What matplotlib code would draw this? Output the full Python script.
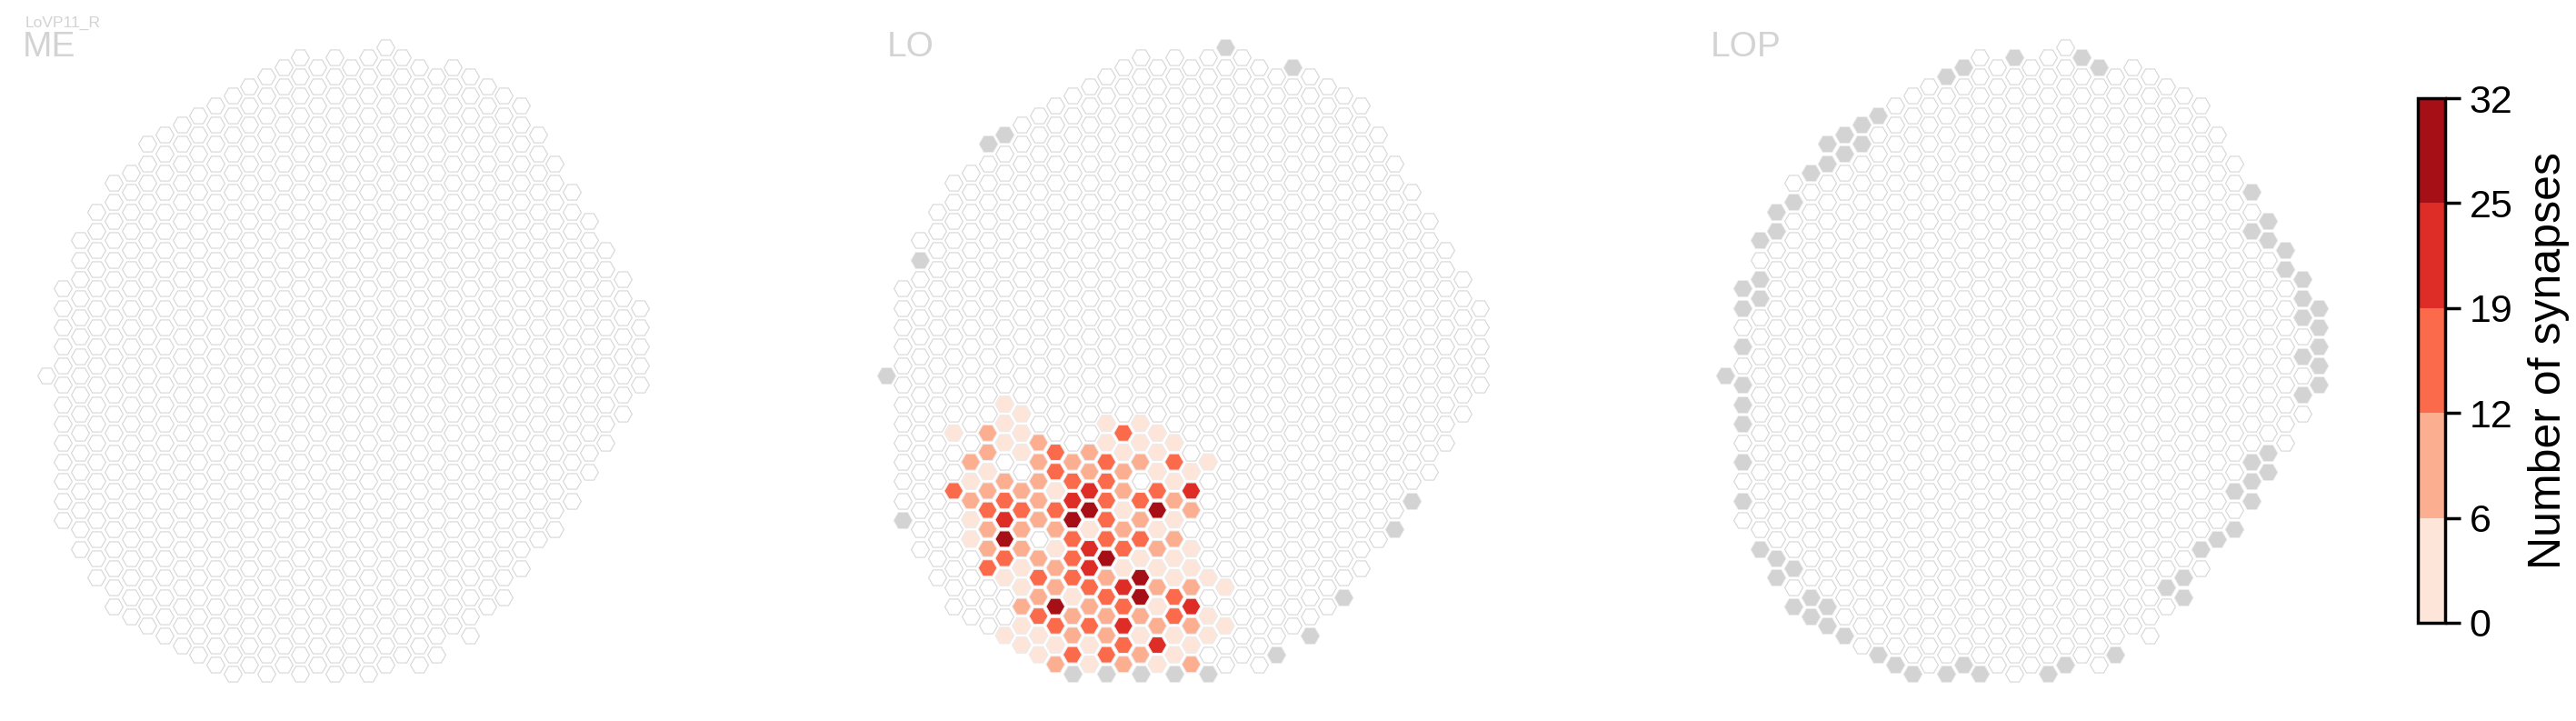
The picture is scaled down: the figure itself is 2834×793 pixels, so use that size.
import matplotlib.pyplot as plt
from matplotlib.colors import ListedColormap, BoundaryNorm
from matplotlib.cm import ScalarMappable

# Output size
W, H, DPI = 2834, 793, 100

# Hex grid shared by all panels: column c holds hexes from COL_BOTTOM[c] to COL_TOP[c]
# (half-row index k, steps of 2, k = 0 is the single hex of column 0)
COL_TOP = [0, 9, 14, 17, 20, 21, 24, 25, 26, 27, 28, 29, 30, 31, 32, 33, 32, 33,
           32, 33, 34, 33, 32, 31, 32, 31, 30, 29, 28, 25, 22, 19, 16, 13, 10, 7]
COL_BOTTOM = [0, -15, -18, -21, -24, -25, -26, -27, -28, -29, -30, -31, -30, -31, -30, -31, -30, -31,
              -30, -31, -30, -29, -30, -29, -26, -27, -24, -23, -20, -17, -16, -13, -10, -7, -4, -1]

PANELS = ["ME", "LO", "LOP"]
NEURON = "LoVP11_R"

# Columns drawn grey in each panel (col, k)
ME_GREY = []
LO_GREY = [(20, 34), (24, 32), (7, 25), (6, 24), (2, 12), (0, 0), (1, -15), (31, -13),
           (30, -16), (27, -23), (25, -27), (23, -29), (11, -31), (13, -31), (15, -31),
           (17, -31), (19, -31)]
LOP_GREY = [(17, 33), (21, 33), (22, 32), (14, 32), (13, 31), (9, 27), (8, 26), (7, 25),
            (6, 24), (8, 24), (7, 23), (6, 22), (5, 21), (4, 18), (3, 17), (3, 15), (2, 14),
            (2, 10), (1, 9), (2, 8), (1, 7), (1, 3), (0, 0), (1, -1), (1, -3), (1, -5),
            (1, -9), (1, -13), (2, -18), (3, -19), (3, -21), (4, -20), (5, -23), (4, -24),
            (6, -24), (5, -25), (6, -26), (7, -27), (9, -29), (10, -30), (11, -31), (13, -31),
            (14, -30), (15, -31), (19, -31), (20, -30), (23, -29), (27, -21), (27, -23),
            (26, -22), (28, -18), (29, -17), (30, -16), (30, -12), (31, -13), (31, -11),
            (31, -9), (32, -8), (32, -10), (34, -2), (35, -1), (35, 1), (35, 3), (35, 5),
            (35, 7), (34, 2), (34, 6), (34, 8), (34, 10), (33, 11), (33, 13), (32, 14),
            (32, 16), (31, 15), (31, 19)]

# LO synapse counts, one line per half-row k: (col, k, synapses)
LO_SYN = [
    (7, -3, 3),
    (8, -4, 3),
    (7, -5, 3), (13, -5, 3), (15, -5, 3),
    (4, -6, 3), (6, -6, 9), (8, -6, 3), (14, -6, 16), (16, -6, 3),
    (7, -7, 3), (9, -7, 9), (13, -7, 3), (15, -7, 3), (17, -7, 3),
    (6, -8, 9), (8, -8, 3), (10, -8, 16), (12, -8, 9), (14, -8, 3), (16, -8, 3),
    (5, -9, 9), (9, -9, 9), (11, -9, 9), (13, -9, 16), (15, -9, 9), (17, -9, 16), (19, -9, 3),
    (6, -10, 3), (10, -10, 16), (12, -10, 9), (14, -10, 9), (16, -10, 3), (18, -10, 3),
    (5, -11, 3), (7, -11, 9), (9, -11, 9), (11, -11, 16), (13, -11, 16), (17, -11, 3),
    (4, -12, 16), (6, -12, 9), (8, -12, 9), (10, -12, 3), (12, -12, 22), (14, -12, 9), (16, -12, 16), (18, -12, 22),
    (5, -13, 9), (7, -13, 16), (9, -13, 9), (11, -13, 22), (13, -13, 16), (15, -13, 16), (17, -13, 9),
    (6, -14, 16), (8, -14, 16), (10, -14, 16), (12, -14, 28), (14, -14, 3), (16, -14, 28), (18, -14, 9),
    (5, -15, 3), (7, -15, 22), (9, -15, 9), (11, -15, 28), (13, -15, 16), (15, -15, 9), (17, -15, 3),
    (6, -16, 9), (8, -16, 9), (10, -16, 9), (12, -16, 3), (14, -16, 9), (16, -16, 3),
    (5, -17, 3), (7, -17, 28), (11, -17, 16), (13, -17, 16), (15, -17, 16), (17, -17, 9),
    (6, -18, 9), (8, -18, 9), (10, -18, 3), (12, -18, 22), (14, -18, 16), (16, -18, 9), (18, -18, 3),
    (7, -19, 16), (9, -19, 9), (11, -19, 16), (13, -19, 28), (15, -19, 3), (17, -19, 3),
    (6, -20, 16), (8, -20, 3), (10, -20, 9), (12, -20, 22), (14, -20, 3), (16, -20, 3), (18, -20, 3),
    (7, -21, 3), (9, -21, 16), (11, -21, 16), (13, -21, 9), (15, -21, 28), (17, -21, 3), (19, -21, 3),
    (8, -22, 3), (10, -22, 9), (12, -22, 16), (14, -22, 22), (16, -22, 9), (18, -22, 9), (20, -22, 3),
    (9, -23, 9), (11, -23, 3), (13, -23, 16), (15, -23, 28), (17, -23, 16),
    (8, -24, 9), (10, -24, 28), (12, -24, 9), (14, -24, 16), (16, -24, 3), (18, -24, 22),
    (9, -25, 16), (11, -25, 9), (13, -25, 9), (15, -25, 9), (17, -25, 16), (19, -25, 3),
    (8, -26, 3), (10, -26, 16), (12, -26, 16), (14, -26, 22), (16, -26, 9), (18, -26, 9), (20, -26, 3),
    (7, -27, 3), (9, -27, 3), (11, -27, 9), (13, -27, 9), (15, -27, 3), (17, -27, 3), (19, -27, 3),
    (8, -28, 3), (10, -28, 3), (12, -28, 3), (14, -28, 16), (16, -28, 22), (18, -28, 3),
    (9, -29, 3), (11, -29, 16), (13, -29, 16), (15, -29, 9), (17, -29, 3),
    (10, -30, 9), (12, -30, 3), (14, -30, 9), (16, -30, 3), (18, -30, 9),
]

# Colour scale
BIN_EDGES = [0, 6.4, 12.8, 19.2, 25.6, 32]
BIN_LABELS = ["0", "6", "12", "19", "25", "32"]
BIN_COLORS = ["#fee5d9", "#fcae91", "#fb6a4a", "#de2d26", "#a50f15"]

# Layout (pixels)
COL_PX = 18.66      # horizontal distance between columns
HALF_PX = 10.6      # half of the vertical distance between hexes
K0_PX = 412.7       # pixel row of k = 0
PANEL_X0 = [50.5, 974.6, 1898.3]   # pixel x of column 0 in each panel
LABEL_X = [25, 976, 1882]

plt.rcParams["font.family"] = ["Liberation Sans", "DejaVu Sans"]


def hex_size(r_px):
    # scatter size (pt^2) of a 'H' marker with circumradius r_px pixels
    return (2 * r_px * 72 / DPI) ** 2


def panel_axes(fig, x0):
    left, right = x0 - 40, x0 + 35 * COL_PX + 40
    top, bottom = 20, 785
    ax = fig.add_axes([left / W, 1 - bottom / H, (right - left) / W, (bottom - top) / H])
    ax.set_xlim((left - x0) / COL_PX, (right - x0) / COL_PX)
    ax.set_ylim((K0_PX - bottom) / HALF_PX, (K0_PX - top) / HALF_PX)
    ax.axis("off")
    return ax


all_cols, all_ks = [], []
for c, (kt, kb) in enumerate(zip(COL_TOP, COL_BOTTOM)):
    for k in range(kb, kt + 1, 2):
        all_cols.append(c)
        all_ks.append(k)

cmap = ListedColormap(BIN_COLORS)
norm = BoundaryNorm(BIN_EDGES, len(BIN_COLORS))

fig = plt.figure(figsize=(W / DPI, H / DPI), dpi=DPI)

grey_sets = {"ME": ME_GREY, "LO": LO_GREY, "LOP": LOP_GREY}
syn_sets = {"ME": [], "LO": LO_SYN, "LOP": []}

for name, x0, lx in zip(PANELS, PANEL_X0, LABEL_X):
    ax = panel_axes(fig, x0)
    grey = set(grey_sets[name])
    syn = {(c, k): n for c, k, n in syn_sets[name]}

    wc = [c for c, k in zip(all_cols, all_ks) if (c, k) not in grey and (c, k) not in syn]
    wk = [k for c, k in zip(all_cols, all_ks) if (c, k) not in grey and (c, k) not in syn]
    ax.scatter(wc, wk, marker="H", s=hex_size(9.9), facecolor="white",
               edgecolor="#d6d6d6", linewidths=0.8)

    if grey:
        gc, gk = zip(*sorted(grey))
        ax.scatter(gc, gk, marker="H", s=hex_size(10.4), facecolor="#d3d3d3",
                   edgecolor="#ececec", linewidths=0.6)

    if syn:
        sc, sk, sn = zip(*syn_sets[name])
        ax.scatter(sc, sk, c=sn, cmap=cmap, norm=norm, marker="H", s=hex_size(10.4),
                   edgecolor="#ececec", linewidths=0.8)

    fig.text(lx / W, 1 - 62 / H, name, fontsize=28, color="#d3d3d3", ha="left", va="baseline")

fig.text(28 / W, 1 - 29.5 / H, NEURON, fontsize=12.5, color="#d3d3d3", ha="left", va="baseline")

# Colour bar
cax = fig.add_axes([2660 / W, 1 - 685 / H, 30 / W, 577 / H])
cbar = fig.colorbar(ScalarMappable(norm=norm, cmap=cmap), cax=cax, ticks=BIN_EDGES)
cbar.set_ticklabels(BIN_LABELS)
cbar.outline.set_linewidth(2.5)
cax.tick_params(length=12, width=2.5, labelsize=31, pad=7)
cbar.set_label("Number of synapses", fontsize=36, labelpad=12)

fig.savefig("out.png", dpi=DPI)
